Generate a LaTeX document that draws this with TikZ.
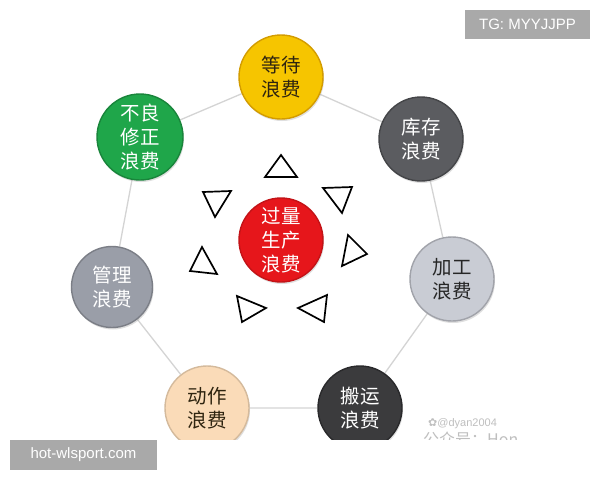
\documentclass[tikz,border=0pt]{standalone}
\usepackage{fontspec}
\newfontfamily\cjk{Noto Sans CJK SC}
\newfontfamily\latinsans{Liberation Sans}
\newfontfamily\symfont{DejaVu Sans}
\usetikzlibrary{shadows}
\pgfdeclarelayer{bg}
\pgfsetlayers{bg,main}
\definecolor{cYellow}{HTML}{F6C500}
\definecolor{cStock}{HTML}{5B5C60}
\definecolor{cProc}{HTML}{C9CCD4}
\definecolor{cMove}{HTML}{3B3B3D}
\definecolor{cMotion}{HTML}{FADBB8}
\definecolor{cMgmt}{HTML}{9A9EA8}
\definecolor{cDefect}{HTML}{1FA64A}
\definecolor{cOver}{HTML}{E6161B}
\definecolor{cLine}{HTML}{D4D4D4}
\definecolor{cWm}{HTML}{A9A9A9}
\definecolor{cDarkTxt}{HTML}{2E2410}
\begin{document}
\begin{tikzpicture}[x=1pt,y=-1pt,
  ball/.style={circle, minimum size=84pt, inner sep=0pt, line width=1.4pt,
    align=center, font=\cjk\fontsize{19.5}{24}\selectfont,
    drop shadow={opacity=0.25, shadow xshift=1pt, shadow yshift=-2pt}},
  link/.style={draw=cLine, line width=1.3pt},
  tri/.style={draw=black, line width=1.7pt, line join=miter, fill=white},
  wmbox/.style={fill=cWm, text=white, inner sep=0pt, font=\latinsans\fontsize{15}{18}\selectfont}]
\useasboundingbox (0,0) rectangle (600,480);
\begin{pgfonlayer}{bg}
\fill[white] (0,0) rectangle (600,480);
\end{pgfonlayer}
\begin{scope}
\clip (0,0) rectangle (600,439);
% nodes
\node[ball, fill=cYellow, draw=cYellow!80!orange!85!black, text=cDarkTxt] (wait) at (281,77) {等待\\浪费};
\node[ball, fill=cStock, draw=cStock!75!black, text=white] (stock) at (421,139) {库存\\浪费};
\node[ball, fill=cProc, draw=cProc!80!black, text=black!85] (proc) at (452,279) {加工\\浪费};
\node[ball, fill=cMove, draw=cMove!70!black, text=white] (move) at (360,408) {搬运\\浪费};
\node[ball, fill=cMotion, draw=cMotion!85!black, text=cDarkTxt] (motion) at (207,408) {动作\\浪费};
\node[ball, fill=cMgmt, draw=cMgmt!80!black, text=white, minimum size=81pt] (mgmt) at (112,287) {管理\\浪费};
\node[ball, fill=cDefect, draw=cDefect!80!black, text=white, minimum size=86pt] (defect) at (140,137) {不良\\修正\\浪费};
\node[ball, fill=cOver, draw=cOver!85!black, text=white] (over) at (281,240) {过量\\生产\\浪费};
% faint watermark text
\node[text=black!25, font=\latinsans\fontsize{11}{12}\selectfont, anchor=west, inner sep=0pt] (wm1) at (428,424) {{\symfont ✿}@dyan2004};
\node[text=black!25, font=\cjk\fontsize{16}{18}\selectfont, anchor=north west, inner sep=0pt] (wm2) at (423,432) {公众号：Hon};
% triangles
\draw[tri] (281,155) -- (297,177) -- (265,177) -- cycle;
\draw[tri] (203,192) -- (231,191) -- (215,217) -- cycle;
\draw[tri] (323,188) -- (352,187) -- (342,213) -- cycle;
\draw[tri] (348,235) -- (367,254) -- (342,266) -- cycle;
\draw[tri] (327,295) -- (324,322) -- (298,308) -- cycle;
\draw[tri] (237,296) -- (266,308) -- (242,322) -- cycle;
\draw[tri] (202,247) -- (217,274) -- (190,271) -- cycle;
\end{scope}
% connectors behind the balls
\begin{pgfonlayer}{bg}
\begin{scope}
\clip (0,0) rectangle (600,439);
\path[link] (wait) -- (stock) -- (proc) -- (move) -- (motion) -- (mgmt) -- (defect) -- (wait);
\end{scope}
\end{pgfonlayer}
% overlay watermark boxes
\node[wmbox, minimum width=125pt, minimum height=29pt] (tg) at (527.5,24.5) {TG: MYYJJPP};
\node[wmbox, minimum width=147pt, minimum height=30pt] (site) at (83.5,455) {hot-wlsport.com};
\end{tikzpicture}
\end{document}
